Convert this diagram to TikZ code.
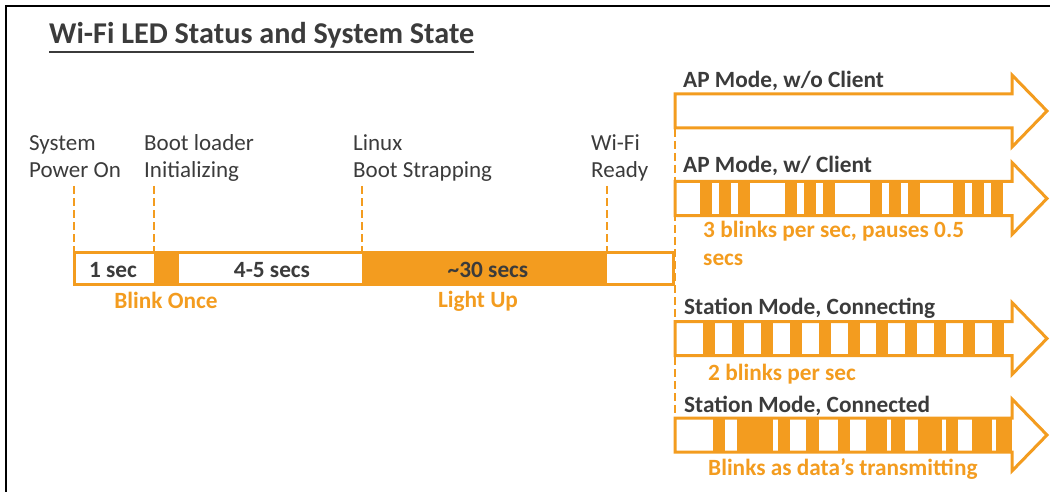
\documentclass[tikz,border=0pt]{standalone}
\usepackage{fontspec}
\setmainfont{Carlito}
\definecolor{orng}{HTML}{F39C1F}
\definecolor{txt}{HTML}{3B3B3B}
\begin{document}
\begin{tikzpicture}[x=1pt,y=-1pt,
  lbl/.style={font=\fontsize{23}{28}\selectfont, text=txt, anchor=base west, inner sep=0pt},
  blbl/.style={font=\fontsize{23.3}{28}\selectfont\bfseries, text=txt, anchor=base west, inner sep=0pt},
  tlbl/.style={font=\fontsize{23.3}{28}\selectfont\bfseries, text=txt, anchor=base, inner sep=0pt},
  olbl/.style={font=\fontsize{23.3}{29}\selectfont\bfseries, text=orng, anchor=base west, inner sep=0pt},
  olblc/.style={font=\fontsize{23.3}{29}\selectfont\bfseries, text=orng, anchor=base, inner sep=0pt},
  marker/.style={orng, line width=2.6pt, dash pattern=on 8pt off 4pt},
  arrowbox/.style={draw=orng, line width=3pt, line join=miter},
  ]
\useasboundingbox (0,0) rectangle (1050,492);
\draw[black, line width=2pt] (6,492) -- (6,6) -- (1050,6);

% title
\node[font=\fontsize{30.2}{36}\selectfont\bfseries, text=txt, anchor=base west, inner sep=0pt] (title) at (49,44) {Wi-Fi LED Status and System State};
\draw[txt, line width=2pt] ([yshift=-8.5pt]title.base west) -- ([yshift=-8.5pt]title.base east);

% event labels
\node[lbl] (ev1a) at (29,151) {System};
\node[lbl] (ev1b) at (29,178) {Power On};
\node[lbl] (ev2a) at (144,151) {Boot loader};
\node[lbl] (ev2b) at (144,178) {Initializing};
\node[lbl] (ev3a) at (353,151) {Linux};
\node[lbl] (ev3b) at (353,178) {Boot Strapping};
\node[lbl] (ev4a) at (591,151) {Wi-Fi};
\node[lbl] (ev4b) at (591,178) {Ready};

% timeline bar
\fill[orng] (73,251) rectangle (675,286);
\fill[white] (76,254) rectangle (154,283);
\fill[white] (179,254) rectangle (362,283);
\fill[white] (607,254) rectangle (672,283);
\node[tlbl] (d1) at (113,277) {1 sec};
\node[tlbl] (d2) at (272,277) {4-5 secs};
\node[tlbl] (d3) at (488,277) {\textasciitilde30 secs};
\node[olblc] (blink) at (166,308) {Blink Once};
\node[olblc] (light) at (478,307) {Light Up};

% markers
\coordinate (m1t) at (74,186);  \coordinate (m1b) at (74,251);
\coordinate (m2t) at (154,186); \coordinate (m2b) at (154,251);
\coordinate (m3t) at (362,186); \coordinate (m3b) at (362,251);
\coordinate (m4t) at (607,186); \coordinate (m4b) at (607,251);
\draw[marker] (m1t) -- (m1b);
\draw[marker] (m2t) -- (m2b);
\draw[marker] (m3t) -- (m3b);
\draw[marker] (m4t) -- (m4b);
\coordinate (vt) at (675,93); \coordinate (vb) at (675,452);
\draw[marker] (vt) -- (vb);

% arrow 2 (AP with client), centre 198.5
\foreach \s in {700,785,870,953}{
  \foreach \k in {0,19,38}{
    \fill[orng] (\s+\k,181.5) rectangle (\s+\k+12,215.5);
  }
}
% arrow 3 (station connecting), centre 338.5
\foreach \k in {0,...,10}{
  \fill[orng] (703+\k*28.9,321.5) rectangle (715+\k*28.9,355.5);
}
% arrow 4 (station connected), centre 435
\foreach \a/\b in {713/725,737/773,778/790,806/819,838/850,866/887,891/905,918/942,946/958,972/992,996/1012}{
  \fill[orng] (\a,418) rectangle (\b,452);
}
% arrow outlines
\foreach \cy in {111,198.5,338.5,435}{
  \draw[arrowbox] (675,\cy-17) -- (1012,\cy-17) -- (1012,\cy-36) -- (1047,\cy) -- (1012,\cy+36) -- (1012,\cy+17) -- (675,\cy+17) -- cycle;
}

% arrow labels
\node[blbl] (l1) at (683,88) {AP Mode, w/o Client};
\node[blbl] (l2) at (683,173) {AP Mode, w/ Client};
\node[olbl] (o2a) at (703,237) {3 blinks per sec, pauses 0.5};
\node[olbl] (o2b) at (703,265) {secs};
\node[blbl] (l3) at (684,314) {Station Mode, Connecting};
\node[olbl] (o3) at (708,380) {2 blinks per sec};
\node[blbl] (l4) at (684,412) {Station Mode, Connected};
\node[olbl] (o4) at (708,475) {Blinks as data’s transmitting};
\end{tikzpicture}
\end{document}
